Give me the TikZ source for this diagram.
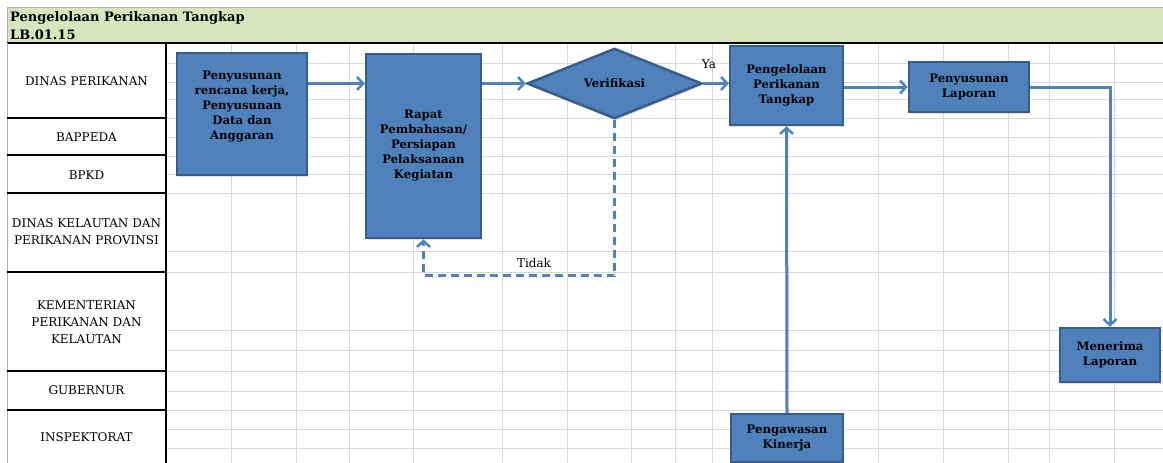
\documentclass[tikz,border=0pt]{standalone}
\usepackage{fontspec}
\setmainfont{DejaVu Serif}
\usetikzlibrary{shapes.geometric,arrows.meta,shadows}
\definecolor{boxblue}{HTML}{4F81BD}
\definecolor{boxline}{HTML}{385D8A}
\definecolor{headgreen}{HTML}{D8E4BC}
\definecolor{gridgray}{HTML}{D9D9D9}
\begin{document}
\begin{tikzpicture}
[x=1pt,y=-1pt,%
  proc/.style={rectangle,draw=boxline,fill=boxblue,line width=2.5pt,inner sep=0pt,align=center,%
    drop shadow={opacity=0.25,shadow xshift=1pt,shadow yshift=-2pt},font=\bfseries\fontsize{11.7}{15}\selectfont},%
  boxtext/.style={align=center,inner sep=0pt,font=\bfseries\fontsize{11.7}{15}\selectfont},%
  decide/.style={diamond,draw=boxline,fill=boxblue,line width=2.5pt,inner sep=0pt,%
    drop shadow={opacity=0.25,shadow xshift=1pt,shadow yshift=-2pt},font=\bfseries\fontsize{11.7}{15}\selectfont},%
  flow/.style={-{Straight Barb[length=6pt,width=13pt,line width=2.5pt]},draw=boxblue,line width=3pt},%
  lane/.style={align=center,font=\fontsize{12}{17}\selectfont},%
  gridline/.style={gridgray,line width=1pt}]
\useasboundingbox (0,0) rectangle (1163,463);
\fill[white] (0,0) rectangle (1163,463);
\foreach \y in {63,82,99,118,137,156,174,193,251,272,330,350,371,391,410,429,448}
  \draw[gridline] (166,\y) -- (1163,\y);
\foreach \x in {231,296,349,413,502,567,631,675,712,878,943,1008,1049,1114}
  \draw[gridline] (\x,43) -- (\x,463);
\draw[fill=headgreen,draw=gray!60] (7,7) rectangle (1163,43);
\draw[line width=1.2pt] (7,43) -- (1163,43);
\node[anchor=west,align=left,inner sep=0pt,font=\bfseries\fontsize{13}{18}\selectfont] (title) at (10,26) {Pengelolaan Perikanan Tangkap\\LB.01.15};
\draw[gray!60] (7,43) -- (7,463);
\draw[line width=1.2pt] (166,43) -- (166,463);
\foreach \y in {118,155,193,272,371,410}
  \draw[line width=1.2pt] (7,\y) -- (166,\y);
\node[lane] (dinas) at (86.5,81) {DINAS PERIKANAN};
\node[lane] (bappeda) at (86.5,137) {BAPPEDA};
\node[lane] (bpkd) at (86.5,175) {BPKD};
\node[lane] (dkp) at (86.5,232) {DINAS KELAUTAN DAN\\PERIKANAN PROVINSI};
\node[lane] (kkp) at (86.5,322) {KEMENTERIAN\\PERIKANAN DAN\\KELAUTAN};
\node[lane] (gub) at (86.5,390) {GUBERNUR};
\node[lane] (insp) at (86.5,437) {INSPEKTORAT};
\node[proc,minimum width=130pt,minimum height=122pt] (susun) at (242,114) {};
\node[boxtext] (susuntext) at (242,106.5) {Penyusunan\\rencana kerja,\\Penyusunan\\Data dan\\Anggaran};
\node[proc,minimum width=115pt,minimum height=184pt] (rapat) at (423.5,146) {Rapat\\Pembahasan/\\Persiapan\\Pelaksanaan\\Kegiatan};
\node[decide,minimum width=175pt,minimum height=69pt] (verif) at (614.5,83.5) {Verifikasi};
\node[proc,minimum width=113pt,minimum height=79pt] (kelola) at (786.5,85.5) {Pengelolaan\\Perikanan\\Tangkap};
\node[proc,minimum width=120pt,minimum height=50pt] (lapor) at (969,87) {Penyusunan\\Laporan};
\node[proc,minimum width=100pt,minimum height=54pt] (terima) at (1110,355) {Menerima\\Laporan};
\node[proc,minimum width=112pt,minimum height=48pt] (awas) at (787,438) {Pengawasan\\Kinerja};
\draw[flow] (susun.east |- verif.west) -- (rapat.west |- verif.west);
\draw[flow] (rapat.east |- verif.west) -- (verif.west);
\draw[flow] (verif.east) -- (kelola.west |- verif.east);
\draw[flow] (kelola.east |- lapor.west) -- (lapor.west);
\draw[flow] (lapor.east) -| (terima.north);
\draw[flow] (awas.north) -- (kelola.south);
\draw[flow,dash pattern=on 8pt off 5pt] (verif.south) -- ++(0,156) -| (rapat.south);
\node[lane] (ya) at (709,64) {Ya};
\node[lane] (tidak) at (534,263) {Tidak};
\end{tikzpicture}
\end{document}
